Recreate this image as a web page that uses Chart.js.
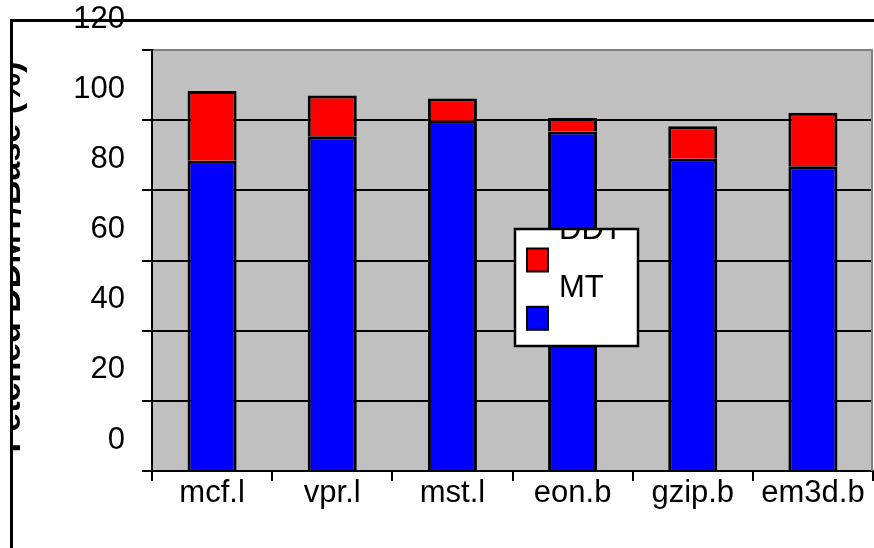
<!DOCTYPE html>
<html>
<head>
<meta charset="utf-8">
<script src="https://cdn.jsdelivr.net/npm/chart.js@4/dist/chart.umd.min.js"></script>
<style>
  html, body { margin: 0; padding: 0; background: #ffffff; }
  #wrap { width: 874px; height: 548px; position: relative; }
</style>
</head>
<body>
<div id="wrap"><canvas id="c" width="874" height="548"></canvas></div>
<script>
const categories = ['mcf.l', 'vpr.l', 'mst.l', 'eon.b', 'gzip.b', 'em3d.b'];
const mtValues  = [88.4, 95.4, 99.8, 96.8, 89.0, 86.9];
const ddtValues = [19.9, 11.6, 6.4, 3.8, 9.3, 15.2];
const seriesNames = ['MT', 'DDT'];
const yTitle = 'Fetched DDMT/Base (%)';
const yMin = 0, yMax = 120, yStep = 20;

const FONT = '"Liberation Sans", Arial, sans-serif';

const bgPlugin = {
  id: 'bgPlugin',
  beforeDraw(chart) {
    const { ctx, chartArea: a } = chart;
    ctx.save();
    ctx.fillStyle = '#ffffff';
    ctx.fillRect(0, 0, chart.width, chart.height);
    ctx.fillStyle = '#C0C0C0';
    ctx.fillRect(a.left, a.top, a.right - a.left, a.bottom - a.top);
    ctx.restore();
  },
  afterDraw(chart) {
    const { ctx, chartArea: a } = chart;
    ctx.save();
    ctx.strokeStyle = '#808080';
    ctx.lineWidth = 2;
    ctx.beginPath();
    ctx.moveTo(a.right - 1, a.top);
    ctx.lineTo(a.right - 1, a.bottom);
    ctx.stroke();

    const bx = 515, by = 229, bw = 123, bh = 117;
    ctx.fillStyle = '#ffffff';
    ctx.fillRect(bx, by, bw, bh);
    ctx.save();
    ctx.beginPath();
    ctx.rect(bx, by, bw, bh);
    ctx.clip();
    const ds = chart.data.datasets.slice().reverse();
    ds.forEach((d, i) => {
      const sy = 248.5 + i * 58.3;
      ctx.fillStyle = d.backgroundColor;
      ctx.fillRect(527, sy, 21, 23);
      ctx.strokeStyle = '#000';
      ctx.lineWidth = 2;
      ctx.strokeRect(527, sy, 21, 23);
      ctx.fillStyle = '#000';
      ctx.font = '31px ' + FONT;
      ctx.textBaseline = 'alphabetic';
      ctx.textAlign = 'left';
      ctx.fillText(d.label, 559, sy - 9.5);
    });
    ctx.restore();
    ctx.strokeStyle = '#000';
    ctx.lineWidth = 2.5;
    ctx.strokeRect(bx, by, bw, bh);

    ctx.save();
    ctx.translate(20, 257);
    ctx.rotate(-Math.PI / 2);
    ctx.font = 'bold 34px ' + FONT;
    ctx.textAlign = 'center';
    ctx.textBaseline = 'alphabetic';
    ctx.fillStyle = '#000';
    ctx.fillText(yTitle, 0, 0);
    ctx.restore();
    ctx.fillStyle = '#ffffff';
    ctx.fillRect(0, 0, 10.5, chart.height);

    ctx.strokeStyle = '#000';
    ctx.lineWidth = 3;
    ctx.beginPath();
    ctx.moveTo(11.5, chart.height);
    ctx.lineTo(11.5, 20.5);
    ctx.lineTo(chart.width, 20.5);
    ctx.stroke();
    ctx.restore();
  }
};

new Chart(document.getElementById('c'), {
  type: 'bar',
  data: {
    labels: categories,
    datasets: [
      { label: seriesNames[0], data: mtValues, backgroundColor: '#0000FF', borderColor: '#000000', borderWidth: 3 },
      { label: seriesNames[1], data: ddtValues, backgroundColor: '#FF0000', borderColor: '#000000', borderWidth: 3 }
    ]
  },
  options: {
    responsive: false,
    devicePixelRatio: 1,
    animation: false,
    layout: { padding: { top: 50, left: 0, right: 1, bottom: 0 } },
    datasets: { bar: { categoryPercentage: 1, barPercentage: 0.408 } },
    plugins: { legend: { display: false }, tooltip: { enabled: false }, title: { display: false } },
    scales: {
      x: {
        stacked: true,
        afterFit(s) { s.height = 77; },
        grid: { offset: true, drawOnChartArea: false, color: '#000', lineWidth: 2, tickLength: 10 },
        border: { color: '#000', width: 2 },
        ticks: { color: '#000', font: { family: FONT, size: 31 }, padding: -6, maxRotation: 0, autoSkip: false }
      },
      y: {
        stacked: true,
        min: yMin, max: yMax,
        afterFit(s) { s.width = 152; },
        grid: {
          color: (c) => (c.tick && c.tick.value === yMax) ? '#808080' : '#000',
          tickColor: '#000',
          lineWidth: 2, tickLength: 10
        },
        border: { color: '#000', width: 2 },
        ticks: { stepSize: yStep, color: '#000', font: { family: FONT, size: 31 }, padding: 17, labelOffset: -31 }
      }
    }
  },
  plugins: [bgPlugin]
});
</script>
</body>
</html>
